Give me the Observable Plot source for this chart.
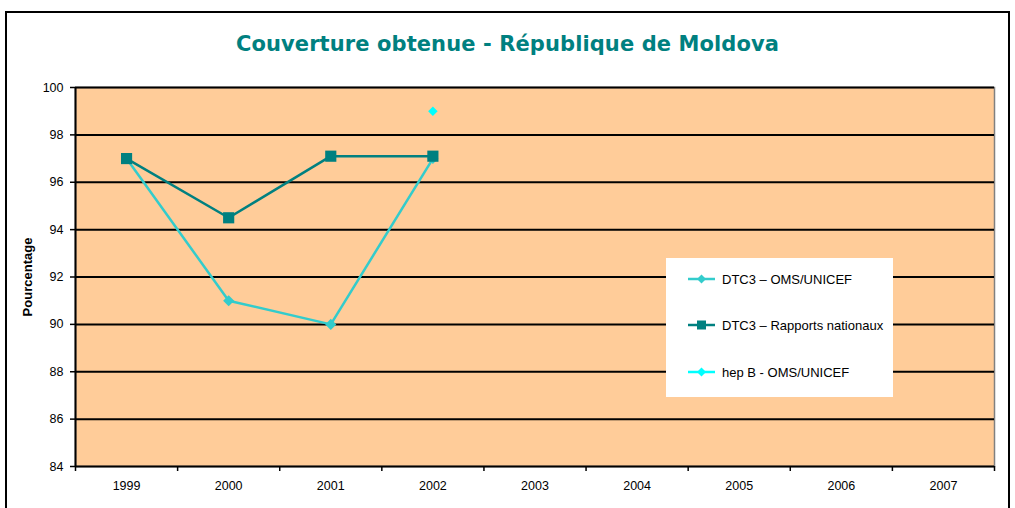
<!DOCTYPE html>
<html>
<head>
<meta charset="utf-8">
<script src="https://cdn.jsdelivr.net/npm/d3@7"></script>
<script src="https://cdn.jsdelivr.net/npm/@observablehq/plot@0.6"></script>
<style>
  html, body { margin: 0; padding: 0; background: #fff; }
  body { width: 1015px; height: 508px; position: relative; overflow: hidden; font-family: "Liberation Sans", Arial, sans-serif; }
  #frame { position: absolute; left: 5px; top: 11px; width: 1005px; height: 520px; border: 2px solid #000; box-sizing: border-box; }
  #title { position: absolute; left: 0; width: 1015px; top: 32px; text-align: center; font-family: "DejaVu Sans", Verdana, sans-serif; font-weight: bold; font-size: 21px; color: #008080; letter-spacing: 0.1px; }
  #chart { position: absolute; left: 0; top: 0; }
  #legend { position: absolute; left: 666px; top: 258px; width: 227px; height: 139px; background: #fff; }
  .item { position: absolute; left: 22px; height: 14px; font-size: 13px; color: #000; display: flex; align-items: center; white-space: nowrap; }
  .item svg { margin-right: 7px; }
  g[aria-label="y-axis label"] text { font-weight: bold; font-size: 13px; }
  g[aria-label="y-axis tick label"] text, g[aria-label="x-axis tick label"] text { font-size: 12.5px; }
</style>
</head>
<body>
<div id="frame"></div>
<div id="chart"></div>
<div id="title">Couverture obtenue - République de Moldova</div>
<div id="legend"></div>
<script>
// Data
const years = [1999, 2000, 2001, 2002, 2003, 2004, 2005, 2006, 2007];
const dtc3Years = [1999, 2000, 2001, 2002];
const dtc3Oms = [97, 91, 90, 97];
const dtc3National = [97, 94.5, 97.1, 97.1];
const hepBYears = [2002];
const hepBOms = [99];
const yTicks = [84, 86, 88, 90, 92, 94, 96, 98, 100];
const seriesNames = ["DTC3 – OMS/UNICEF", "DTC3 – Rapports nationaux", "hep B - OMS/UNICEF"];
const seriesColors = ["#33CCCC", "#008080", "#00FFFF"];

const omsData = dtc3Years.map((y, i) => ({year: y, value: dtc3Oms[i]}));
const natData = dtc3Years.map((y, i) => ({year: y, value: dtc3National[i]}));
const hepData = hepBYears.map((y, i) => ({year: y, value: hepBOms[i]}));
const boundaries = [...years.map(y => y - 0.5), years[years.length - 1] + 0.5];

const chart = Plot.plot({
  width: 1015,
  height: 508,
  marginLeft: 75,
  marginRight: 21,
  marginTop: 87,
  marginBottom: 42,
  style: {fontFamily: "'Liberation Sans', Arial, sans-serif", fontSize: "12.5px", color: "#000", background: "transparent"},
  x: {type: "linear", domain: [boundaries[0], boundaries[boundaries.length - 1]]},
  y: {domain: [84, 100]},
  marks: [
    Plot.frame({fill: "#FFCC99"}),
    Plot.frame({stroke: "#808080", strokeWidth: 1.5}),
    Plot.ruleY(yTicks.filter(d => d > 84), {stroke: "#000", strokeWidth: 2}),
    Plot.ruleY([84], {stroke: "#000", strokeWidth: 2}),
    Plot.ruleX([boundaries[0]], {stroke: "#000", strokeWidth: 2}),
    Plot.axisY({ticks: yTicks, tickSize: 5, tickPadding: 7, stroke: "#000", strokeWidth: 1.5, fontSize: 12.5, label: "Pourcentage", labelArrow: "none", labelAnchor: "center", labelOffset: 53, tickFormat: d => String(d)}),
    Plot.axisX({ticks: boundaries, tickSize: 5, stroke: "#000", strokeWidth: 1.5, tickFormat: () => "", label: null}),
    Plot.axisX({ticks: years, tickSize: 0, tickPadding: 15, fontSize: 12.5, tickFormat: d => String(d), label: null}),
    Plot.line(omsData, {x: "year", y: "value", stroke: seriesColors[0], strokeWidth: 2.5}),
    Plot.dot(omsData, {x: "year", y: "value", symbol: "diamond2", r: 5, fill: seriesColors[0], stroke: "none"}),
    Plot.line(natData, {x: "year", y: "value", stroke: seriesColors[1], strokeWidth: 2.5}),
    Plot.dot(natData, {x: "year", y: "value", symbol: "square", r: 6.3, fill: seriesColors[1], stroke: "none"}),
    Plot.dot(hepData, {x: "year", y: "value", symbol: "diamond2", r: 4.3, fill: seriesColors[2], stroke: "none"})
  ]
});
document.getElementById("chart").appendChild(chart);

// Legend
const legend = document.getElementById("legend");
const markerSvg = (i) => {
  const c = seriesColors[i];
  let m;
  if (i === 1) m = `<rect x="9" y="2.5" width="9" height="9" fill="${c}"/>`;
  else m = `<path d="M13.5,2.5 L18,7 L13.5,11.5 L9,7 Z" fill="${c}"/>`;
  return `<svg width="27" height="14"><line x1="0" y1="7" x2="27" y2="7" stroke="${c}" stroke-width="2.5"/>${m}</svg>`;
};
const itemTops = [14, 60, 107];
seriesNames.forEach((name, i) => {
  const div = document.createElement("div");
  div.className = "item";
  div.style.top = itemTops[i] + "px";
  div.innerHTML = markerSvg(i) + `<span>${name}</span>`;
  legend.appendChild(div);
});
</script>
</body>
</html>
